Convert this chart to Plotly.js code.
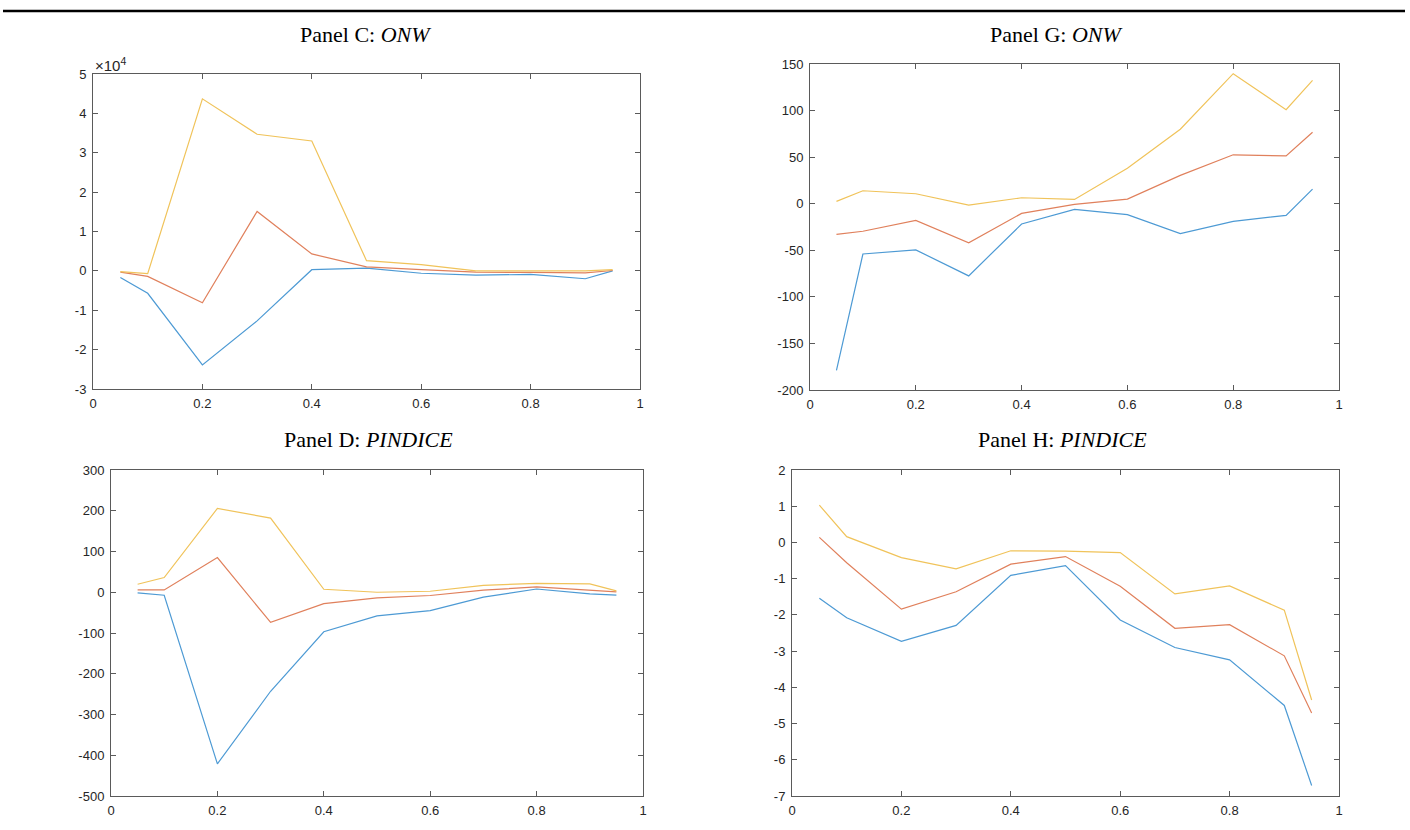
<!DOCTYPE html>
<html>
<head>
<meta charset="utf-8">
<script src="https://cdn.plot.ly/plotly-3.0.1.min.js"></script>
<style>
  html, body { margin: 0; padding: 0; background: #fff; }
  #chart { width: 1410px; height: 830px; }
</style>
</head>
<body>
<div id="chart"></div>
<script>
// Quantile grid shared by all panels
const quantiles = [0.05, 0.1, 0.2, 0.3, 0.4, 0.5, 0.6, 0.7, 0.8, 0.9, 0.95];

// Panel C: ONW (values in raw units; axis shown in units of 1e4)
const onwScale = 1e4;
const panelC_blue   = [-1700, -5700, -23900, -12700, 300, 700, -600, -1100, -900, -2000, 0];
const panelC_red    = [-300, -1400, -8100, 15100, 4300, 1000, 300, -300, -400, -500, 100];
const panelC_yellow = [-200, -700, 43700, 34700, 33000, 2600, 1600, 0, 0, 0, 300];

// Panel G: ONW
const panelG_blue   = [-179, -54, -49.6, -77.5, -21.8, -6.1, -11.8, -32, -19, -12.5, 15.7];
const panelG_red    = [-33, -29.6, -17.9, -42, -10.4, -0.7, 5, 30.4, 52.5, 51.4, 76.8];
const panelG_yellow = [2.5, 13.9, 10.7, -1.4, 6.4, 4.6, 38, 80, 139.6, 101, 132.5];

// Panel D: PINDICE
const panelD_blue   = [-1.6, -7.3, -421, -243, -97, -58, -45, -12, 8, -4, -7];
const panelD_red    = [5.7, 5.7, 85, -74, -28, -14, -8, 5, 13, 4, 1];
const panelD_yellow = [19.6, 36, 205.7, 182, 7.3, 0, 2.4, 17, 22, 20.4, 3.3];

// Panel H: PINDICE
const panelH_blue   = [-1.54, -2.08, -2.73, -2.29, -0.91, -0.64, -2.14, -2.9, -3.24, -4.5, -6.71];
const panelH_red    = [0.14, -0.56, -1.84, -1.36, -0.6, -0.39, -1.21, -2.37, -2.27, -3.13, -4.71];
const panelH_yellow = [1.03, 0.16, -0.42, -0.73, -0.23, -0.24, -0.28, -1.42, -1.2, -1.87, -4.35];

// Titles
const titleC = 'Panel C: <i>ONW</i>';
const titleG = 'Panel G: <i>ONW</i>';
const titleD = 'Panel D: <i>PINDICE</i>';
const titleH = 'Panel H: <i>PINDICE</i>';

// Tick labels
const xTicks = [0, 0.2, 0.4, 0.6, 0.8, 1];
const xTickText = ['0', '0.2', '0.4', '0.6', '0.8', '1'];
const yTicksC = [-3, -2, -1, 0, 1, 2, 3, 4, 5];
const yTicksG = [-200, -150, -100, -50, 0, 50, 100, 150];
const yTicksD = [-500, -400, -300, -200, -100, 0, 100, 200, 300];
const yTicksH = [-7, -6, -5, -4, -3, -2, -1, 0, 1, 2];

const colors = { blue: '#4d9ad4', red: '#e0805c', yellow: '#f0c35a' };

const W = 1410, H = 830;
function xd(a, b) { return [a / W, b / W]; }
function yd(top, bottom) { return [(H - bottom) / H, (H - top) / H]; }

function line(x, y, color, xa, ya) {
  return { x: x, y: y, type: 'scatter', mode: 'lines', xaxis: xa, yaxis: ya,
           line: { color: color, width: 1.2 }, hoverinfo: 'skip', showlegend: false };
}
const scaleC = v => v.map(d => d / onwScale);

const traces = [
  line(quantiles, scaleC(panelC_blue), colors.blue, 'x', 'y'),
  line(quantiles, scaleC(panelC_red), colors.red, 'x', 'y'),
  line(quantiles, scaleC(panelC_yellow), colors.yellow, 'x', 'y'),
  line(quantiles, panelG_blue, colors.blue, 'x2', 'y2'),
  line(quantiles, panelG_red, colors.red, 'x2', 'y2'),
  line(quantiles, panelG_yellow, colors.yellow, 'x2', 'y2'),
  line(quantiles, panelD_blue, colors.blue, 'x3', 'y3'),
  line(quantiles, panelD_red, colors.red, 'x3', 'y3'),
  line(quantiles, panelD_yellow, colors.yellow, 'x3', 'y3'),
  line(quantiles, panelH_blue, colors.blue, 'x4', 'y4'),
  line(quantiles, panelH_red, colors.red, 'x4', 'y4'),
  line(quantiles, panelH_yellow, colors.yellow, 'x4', 'y4')
];

const axisColor = '#5a5a5a';
const tickFont = { family: 'Liberation Sans, Arial, sans-serif', size: 13, color: '#262626' };
function xAxis(domain, anchor) {
  return { domain: domain, anchor: anchor, range: [0, 1], tickmode: 'array',
           tickvals: xTicks, ticktext: xTickText,
           showgrid: false, zeroline: false, showline: true, linecolor: axisColor, linewidth: 1,
           mirror: 'ticks', ticks: 'inside', ticklen: 5, tickcolor: axisColor, tickfont: tickFont,
           ticklabelstandoff: 2, fixedrange: true };
}
function yAxis(domain, anchor, ticks) {
  return { domain: domain, anchor: anchor, range: [ticks[0], ticks[ticks.length - 1]],
           tickmode: 'array', tickvals: ticks, ticktext: ticks.map(v => String(v)),
           showgrid: false, zeroline: false, showline: true, linecolor: axisColor, linewidth: 1,
           mirror: 'ticks', ticks: 'inside', ticklen: 5, tickcolor: axisColor, tickfont: tickFont,
           ticklabelstandoff: 3, fixedrange: true };
}

const titleFont = { family: 'Liberation Serif, Times New Roman, serif', size: 22, color: '#000' };
function title(text, x, y) {
  return { text: text, x: x / W, y: (H - y) / H, xref: 'paper', yref: 'paper',
           xanchor: 'center', yanchor: 'middle', showarrow: false, font: titleFont };
}

const layout = {
  width: W, height: H,
  margin: { l: 0, r: 0, t: 0, b: 0 },
  paper_bgcolor: '#fff', plot_bgcolor: '#fff',
  showlegend: false,
  xaxis:  xAxis(xd(93, 640), 'y'),
  yaxis:  yAxis(yd(74, 389), 'x', yTicksC),
  xaxis2: xAxis(xd(810, 1339), 'y2'),
  yaxis2: yAxis(yd(64, 390), 'x2', yTicksG),
  xaxis3: xAxis(xd(111, 643), 'y3'),
  yaxis3: yAxis(yd(470, 796), 'x3', yTicksD),
  xaxis4: xAxis(xd(792, 1339), 'y4'),
  yaxis4: yAxis(yd(470, 796), 'x4', yTicksH),
  annotations: [
    title(titleC, 365, 34),
    title(titleG, 1056, 34),
    title(titleD, 368, 440),
    title(titleH, 1062, 440),
    { text: '\u00d710<sup>4</sup>', x: 93 / W, y: (H - 65) / H, xref: 'paper', yref: 'paper',
      xanchor: 'left', yanchor: 'middle', showarrow: false,
      font: { family: 'Liberation Sans, Arial, sans-serif', size: 15, color: '#262626' } }
  ],
  shapes: [
    { type: 'line', xref: 'paper', yref: 'paper', x0: 3 / W, x1: 1405 / W,
      y0: (H - 11) / H, y1: (H - 11) / H, line: { color: '#000', width: 2.5 } }
  ]
};

Plotly.newPlot('chart', traces, layout, { displayModeBar: false, staticPlot: true });
</script>
</body>
</html>
